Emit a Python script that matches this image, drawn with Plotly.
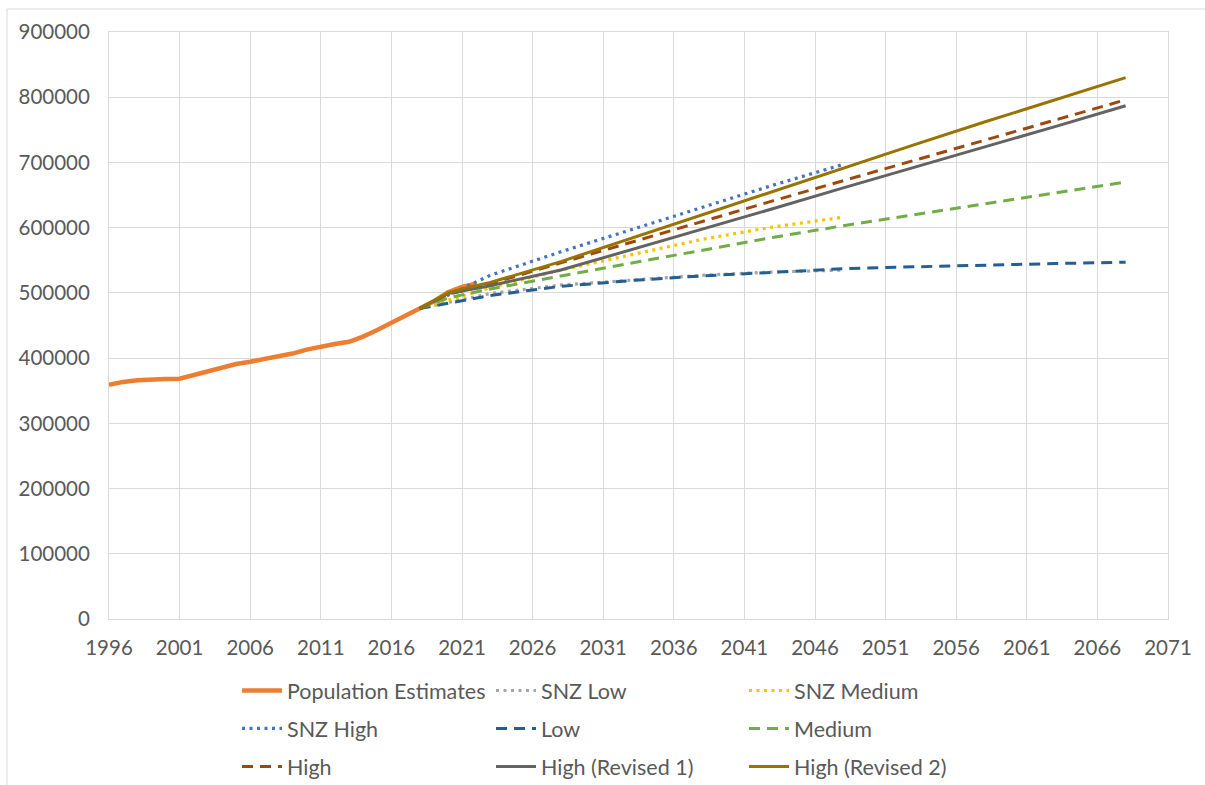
import plotly.graph_objects as go

# ---- data ----
est_years = list(range(1996, 2023))
est_values = [359000, 363500, 366000, 367500, 368000, 368500, 374000, 380500, 386500,
              391000, 394500, 398500, 402000, 407000, 413000, 418000, 421500, 425000,
              433000, 443000, 454000, 465500, 476000, 487000, 501000, 509000, 514000]

snz_years = [2018, 2023, 2028, 2033, 2038, 2043, 2048]
snz_low = [476000, 499000, 512000, 520000, 527000, 532000, 535000]
snz_medium = [476000, 508000, 535000, 559000, 582000, 601000, 616000]
snz_high = [476000, 527000, 563000, 597000, 632000, 665000, 697000]

proj_years = [2018, 2020, 2021, 2023, 2028, 2033, 2038, 2043, 2048, 2053, 2058, 2063, 2068]
low = [476000, 484000, 488000, 496000, 510000, 519000, 526000, 532000, 537000, 540000, 543000, 545000, 547000]
medium = [476000, 492000, 497000, 506000, 526000, 546000, 565000, 585000, 603000, 620000, 637000, 654000, 670000]
high = [476000, 498000, 503000, 514000, 546000, 578000, 609000, 641000, 672000, 703000, 734000, 765000, 796000]
high_rev1 = [476000, 499000, 503000, 511000, 535000, 566000, 598000, 629000, 661000, 692000, 724000, 755000, 787000]
high_rev2 = [476000, 500000, 506000, 516000, 548000, 584000, 620000, 656000, 692000, 727000, 762000, 796000, 830000]

x_ticks = list(range(1996, 2072, 5))
y_ticks = list(range(0, 900001, 100000))

FONT = "Lato, 'Open Sans', sans-serif"
TXT = "#595959"
DOT = "3px,4.5px"
DASH = "11px,7px"

series = [
    # name, x, y, color, width, dash, legend
    ("Population Estimates", est_years, est_values, "#ED7D31", 4.5, "solid", "legend"),
    ("SNZ Low", snz_years, snz_low, "#A5A5A5", 3.2, DOT, "legend2"),
    ("SNZ Medium", snz_years, snz_medium, "#FFC000", 3.2, DOT, "legend3"),
    ("SNZ High", snz_years, snz_high, "#4472C4", 3.2, DOT, "legend"),
    ("Low", proj_years, low, "#255E91", 3, DASH, "legend2"),
    ("Medium", proj_years, medium, "#70AD47", 3, DASH, "legend3"),
    ("High", proj_years, high, "#9E480E", 3, DASH, "legend"),
    ("High (Revised 1)", proj_years, high_rev1, "#636363", 3, "solid", "legend2"),
    ("High (Revised 2)", proj_years, high_rev2, "#997300", 3, "solid", "legend3"),
]

fig = go.Figure()
for name, xs, ys, col, w, dash, leg in series:
    fig.add_trace(go.Scatter(
        x=xs, y=ys, name=name, mode="lines",
        line=dict(color=col, width=w, dash=dash),
        legend=leg, legendgroup=name,
    ))

W, H = 1205, 785
L, R, T, B = 109, 37, 32, 166
pw, ph = W - L - R, H - T - B

def px(x):
    return (x - L) / pw

def py(y):
    return (H - B - y) / ph

leg_common = dict(
    font=dict(family=FONT, size=21.5, color=TXT),
    bgcolor="rgba(0,0,0,0)", orientation="v",
    xanchor="left", yanchor="top", tracegroupgap=7,
    itemwidth=40,
)

fig.update_layout(
    width=W, height=H,
    margin=dict(l=L, r=R, t=T, b=B, autoexpand=False),
    paper_bgcolor="white", plot_bgcolor="white",
    font=dict(family=FONT, size=20.5, color=TXT),
    xaxis=dict(
        range=[1996, 2071], tickmode="array", tickvals=x_ticks,
        ticktext=[str(v) for v in x_ticks],
        showgrid=True, gridcolor="#D9D9D9", gridwidth=1,
        showline=True, linecolor="#D9D9D9", linewidth=1, mirror=True,
        zeroline=False, ticks="", ticklen=0, ticklabelstandoff=10,
        tickfont=dict(family=FONT, size=20.5, color=TXT),
    ),
    yaxis=dict(
        range=[0, 900000], tickmode="array", tickvals=y_ticks,
        ticktext=[str(v) for v in y_ticks],
        showgrid=True, gridcolor="#D9D9D9", gridwidth=1,
        showline=True, linecolor="#D9D9D9", linewidth=1, mirror=True,
        zeroline=False, ticks="", ticklen=0, ticklabelstandoff=14,
        tickfont=dict(family=FONT, size=20.5, color=TXT),
    ),
    legend=dict(x=px(237), y=py(670), **leg_common),
    legend2=dict(x=px(491), y=py(670), **leg_common),
    legend3=dict(x=px(744), y=py(670), **leg_common),
    shapes=[dict(
        type="rect", xref="paper", yref="paper",
        x0=px(7), x1=px(1215), y0=py(795), y1=py(9),
        line=dict(color="#D9D9D9", width=1), fillcolor="rgba(0,0,0,0)", layer="below",
    )],
)

fig.write_html("out.html", config={"displayModeBar": False},
               post_script="document.body.style.margin='0';document.body.style.overflow='hidden';")
